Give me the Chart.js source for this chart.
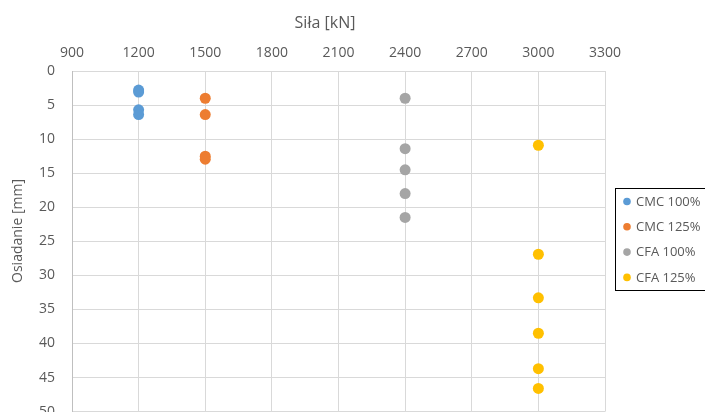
<!DOCTYPE html>
<html>
<head>
<meta charset="utf-8">
<script src="https://cdn.jsdelivr.net/npm/chart.js@4/dist/chart.umd.min.js"></script>
<style>
html,body{margin:0;padding:0;overflow:hidden;background:#fff;}
canvas{display:block;}
</style>
</head>
<body>
<canvas id="c" width="705" height="437"></canvas>
<script>
// ---- data ----
const seriesNames = ["CMC 100%", "CMC 125%", "CFA 100%", "CFA 125%"];
const seriesForce = [1200, 1500, 2400, 3000];           // Siła [kN]
const cmc100 = [2.8, 3.1, 5.7, 6.4];                     // Osiadanie [mm]
const cmc125 = [4.0, 6.4, 12.5, 12.95];
const cfa100 = [4.0, 11.4, 14.5, 18.0, 21.5];
const cfa125 = [10.9, 26.9, 33.3, 38.5, 43.7, 46.6];
const xTicks = [900, 1200, 1500, 1800, 2100, 2400, 2700, 3000, 3300];
const yTicks = [0, 5, 10, 15, 20, 25, 30, 35, 40, 45, 50];
const xTitle = "Siła [kN]";
const yTitle = "Osiadanie [mm]";

const colors = ["#5B9BD5", "#ED7D31", "#A5A5A5", "#FFC000"];
const seriesValues = [cmc100, cmc125, cfa100, cfa125];
const FONT = "'Open Sans', sans-serif";
const TXT = "#595959";

const datasets = seriesValues.map((vals, i) => ({
  label: seriesNames[i],
  data: vals.map(v => ({x: seriesForce[i], y: v})),
  backgroundColor: colors[i],
  borderColor: colors[i],
  pointRadius: 5.5,
  pointBorderWidth: 0,
  showLine: false
}));

const customPlugin = {
  id: 'custom',
  afterDraw(chart) {
    const ctx = chart.ctx;
    ctx.save();
    // x title
    ctx.fillStyle = TXT;
    ctx.font = "16px " + FONT;
    ctx.textAlign = "center";
    ctx.textBaseline = "middle";
    ctx.fillText(xTitle, 325, 23);
    // y title
    ctx.font = "14px " + FONT;
    ctx.translate(18, 231);
    ctx.rotate(-Math.PI / 2);
    ctx.fillText(yTitle, 0, 0);
    ctx.restore();
    // legend
    ctx.save();
    const lx = 615.5, ly = 188.5, lw = 100, lh = 102;
    ctx.strokeStyle = "#000";
    ctx.lineWidth = 1;
    ctx.strokeRect(lx, ly, lw, lh);
    ctx.font = "13px " + FONT;
    ctx.textAlign = "left";
    ctx.textBaseline = "middle";
    seriesNames.forEach((n, i) => {
      const cy = 201.5 + i * 25.3;
      ctx.beginPath();
      ctx.fillStyle = colors[i];
      ctx.arc(627, cy, 3.8, 0, Math.PI * 2);
      ctx.fill();
      ctx.fillStyle = TXT;
      ctx.fillText(n, 636, cy + 0.5);
    });
    ctx.restore();
  }
};

new Chart(document.getElementById('c'), {
  type: 'scatter',
  data: { datasets },
  plugins: [customPlugin],
  options: {
    responsive: false,
    animation: false,
    devicePixelRatio: 1,
    layout: { padding: { left: 0, right: 100, top: 0, bottom: 10 } },
    plugins: { legend: { display: false }, tooltip: { enabled: false } },
    scales: {
      x: {
        type: 'linear',
        position: 'top',
        min: xTicks[0],
        max: xTicks[xTicks.length - 1],
        afterBuildTicks: s => { s.ticks = xTicks.map(v => ({value: v})); },
        afterFit: s => { s.height = 71; },
        grid: { color: "#D9D9D9", lineWidth: 1, drawTicks: false },
        border: { display: false },
        ticks: { color: TXT, font: { family: FONT, size: 14 }, padding: 10, callback: v => String(v) }
      },
      y: {
        type: 'linear',
        reverse: true,
        min: yTicks[0],
        max: yTicks[yTicks.length - 1],
        afterBuildTicks: s => { s.ticks = yTicks.map(v => ({value: v})); },
        afterFit: s => { s.width = 72; },
        grid: { color: "#D9D9D9", lineWidth: 1, drawTicks: false },
        border: { color: "#BFBFBF" },
        ticks: { color: TXT, font: { family: FONT, size: 14 }, padding: 17, callback: v => String(v) }
      }
    }
  }
});
</script>
</body>
</html>
